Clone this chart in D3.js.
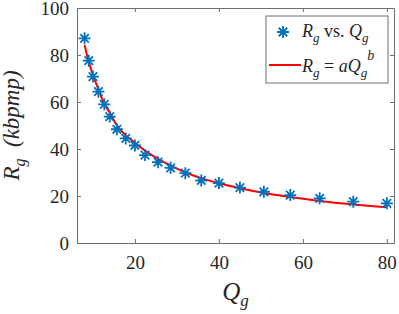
<!DOCTYPE html>
<html>
<head>
<meta charset="utf-8">
<script src="https://cdn.jsdelivr.net/npm/d3@7"></script>
<style>
  body { margin: 0; background: #fff; }
</style>
</head>
<body>
<svg id="chart" width="399" height="314"></svg>
<script>
// values
const qValues = [8, 9, 10, 11.3, 12.7, 14, 15.7, 17.8, 20, 22.4, 25.5, 28.5, 32, 35.8, 40, 45, 50.7, 57, 64, 72, 80]
const rValues = [87.1, 77.6, 70.8, 64.4, 59.0, 53.8, 48.4, 44.5, 41.5, 37.4, 34.4, 32.0, 29.7, 26.6, 25.5, 23.6, 21.8, 20.4, 19.0, 17.6, 16.9]
// fitted curve R = aQ^b, read at the same Q values
const fitValues = [84.3, 77.2, 71.4, 65.5, 59.0, 55.5, 50.0, 45.8, 42.6, 39.3, 35.8, 33.0, 30.0, 27.6, 25.4, 23.3, 21.3, 19.6, 17.9, 16.4, 15.2]
const xTicks = [20, 40, 60, 80]
const yTicks = [0, 20, 40, 60, 80, 100]

const FONT = '"Liberation Serif", "Times New Roman", serif'
const svg = d3.select('#chart')
const margin = { left: 77, right: 5, top: 8, bottom: 71 }
const width = +svg.attr('width')
const height = +svg.attr('height')

const x = d3.scaleLinear().domain([6.2, 81.7]).range([margin.left, width - margin.right])
const y = d3.scaleLinear().domain([0, 100]).range([height - margin.bottom, margin.top])

const axisColor = '#6e6e6e'
const blue = '#0072bd'

// axes with inward ticks, box on
const xAxis = d3.axisBottom(x).tickValues(xTicks).tickSizeInner(-4).tickSizeOuter(0).tickPadding(10)
const yAxis = d3.axisLeft(y).tickValues(yTicks).tickSizeInner(-4).tickSizeOuter(0).tickPadding(8)

const gx = svg.append('g').attr('transform', `translate(0,${y(0)})`).call(xAxis)
const gy = svg.append('g').attr('transform', `translate(${x.range()[0]},0)`).call(yAxis)
svg.append('g').attr('transform', `translate(0,${margin.top})`)
  .call(d3.axisTop(x).tickValues(xTicks).tickSizeInner(-4).tickSizeOuter(0).tickFormat(''))
svg.append('g').attr('transform', `translate(${x.range()[1]},0)`)
  .call(d3.axisRight(y).tickValues(yTicks).tickSizeInner(-4).tickSizeOuter(0).tickFormat(''))

svg.selectAll('.domain').attr('stroke', axisColor).attr('stroke-width', 1)
svg.selectAll('.tick line').attr('stroke', axisColor)
svg.selectAll('.tick text').style('font-size', '19px')
gx.selectAll('.tick text').attr('dy', '0.85em')
gy.selectAll('.tick text').attr('dy', '0.36em')

// fit curve
const line = d3.line()
  .x((d, i) => x(qValues[i]))
  .y(d => y(d))
  .curve(d3.curveMonotoneX)
svg.append('path')
  .datum(fitValues)
  .attr('d', line)
  .attr('fill', 'none')
  .attr('stroke', '#ff0000')
  .attr('stroke-width', 2)

// asterisk marker
const star = function (r) {
  const k = r * Math.SQRT1_2
  return `M${-r},0L${r},0M0,${-r}L0,${r}M${-k},${-k}L${k},${k}M${-k},${k}L${k},${-k}`
}
svg.selectAll('.pt').data(rValues)
  .enter().append('path')
  .attr('class', 'pt')
  .attr('transform', (d, i) => `translate(${x(qValues[i])},${y(d)})`)
  .attr('d', star(6))
  .attr('stroke', blue)
  .attr('stroke-width', 1.8)
  .attr('fill', 'none')

// axis labels
const xl = svg.append('text')
  .attr('x', (x.range()[0] + x.range()[1]) / 2)
  .attr('y', 300)
  .attr('text-anchor', 'middle')
  .style('font-size', '25px')
xl.append('tspan').style('font-style', 'italic').text('Q')
xl.append('tspan').style('font-style', 'italic').style('font-size', '17px').attr('dy', 6).text('g')

const yl = svg.append('text')
  .attr('transform', `translate(19,${(y.range()[0] + y.range()[1]) / 2}) rotate(-90)`)
  .attr('text-anchor', 'middle')
  .style('font-size', '23px')
yl.append('tspan').style('font-style', 'italic').text('R')
yl.append('tspan').style('font-style', 'italic').style('font-size', '16px').attr('dy', 6).text('g')
yl.append('tspan').attr('dy', -6).style('font-style', 'italic').text('\u00a0\u00a0(kbpmp)')

// legend
const lg = svg.append('g')
lg.append('rect')
  .attr('x', 266).attr('y', 16).attr('width', 122).attr('height', 67)
  .attr('fill', '#fff').attr('stroke', axisColor).attr('stroke-width', 1)
lg.append('path')
  .attr('transform', 'translate(283,32)')
  .attr('d', star(6))
  .attr('stroke', blue).attr('stroke-width', 1.8).attr('fill', 'none')
const t1 = lg.append('text').attr('x', 302).attr('y', 37).style('font-size', '18px')
t1.append('tspan').style('font-style', 'italic').text('R')
t1.append('tspan').style('font-style', 'italic').style('font-size', '13px').attr('dy', 5).text('g')
t1.append('tspan').attr('dy', -5).text(' vs. ')
t1.append('tspan').style('font-style', 'italic').text('Q')
t1.append('tspan').style('font-style', 'italic').style('font-size', '13px').attr('dy', 5).text('g')

lg.append('line')
  .attr('x1', 269).attr('x2', 301).attr('y1', 65).attr('y2', 65)
  .attr('stroke', '#ff0000').attr('stroke-width', 2)
const t2 = lg.append('text').attr('x', 302).attr('y', 72).style('font-size', '18px')
t2.append('tspan').style('font-style', 'italic').text('R')
t2.append('tspan').style('font-style', 'italic').style('font-size', '13px').attr('dy', 5).text('g')
t2.append('tspan').attr('dy', -5).text(' = ')
t2.append('tspan').style('font-style', 'italic').text('aQ')
t2.append('tspan').style('font-style', 'italic').style('font-size', '13px').attr('dy', 5).text('g')
t2.append('tspan').style('font-style', 'italic').style('font-size', '14px').attr('dy', -17).text('b')

svg.selectAll('text').style('font-family', FONT).style('fill', '#262626')
</script>
</body>
</html>
